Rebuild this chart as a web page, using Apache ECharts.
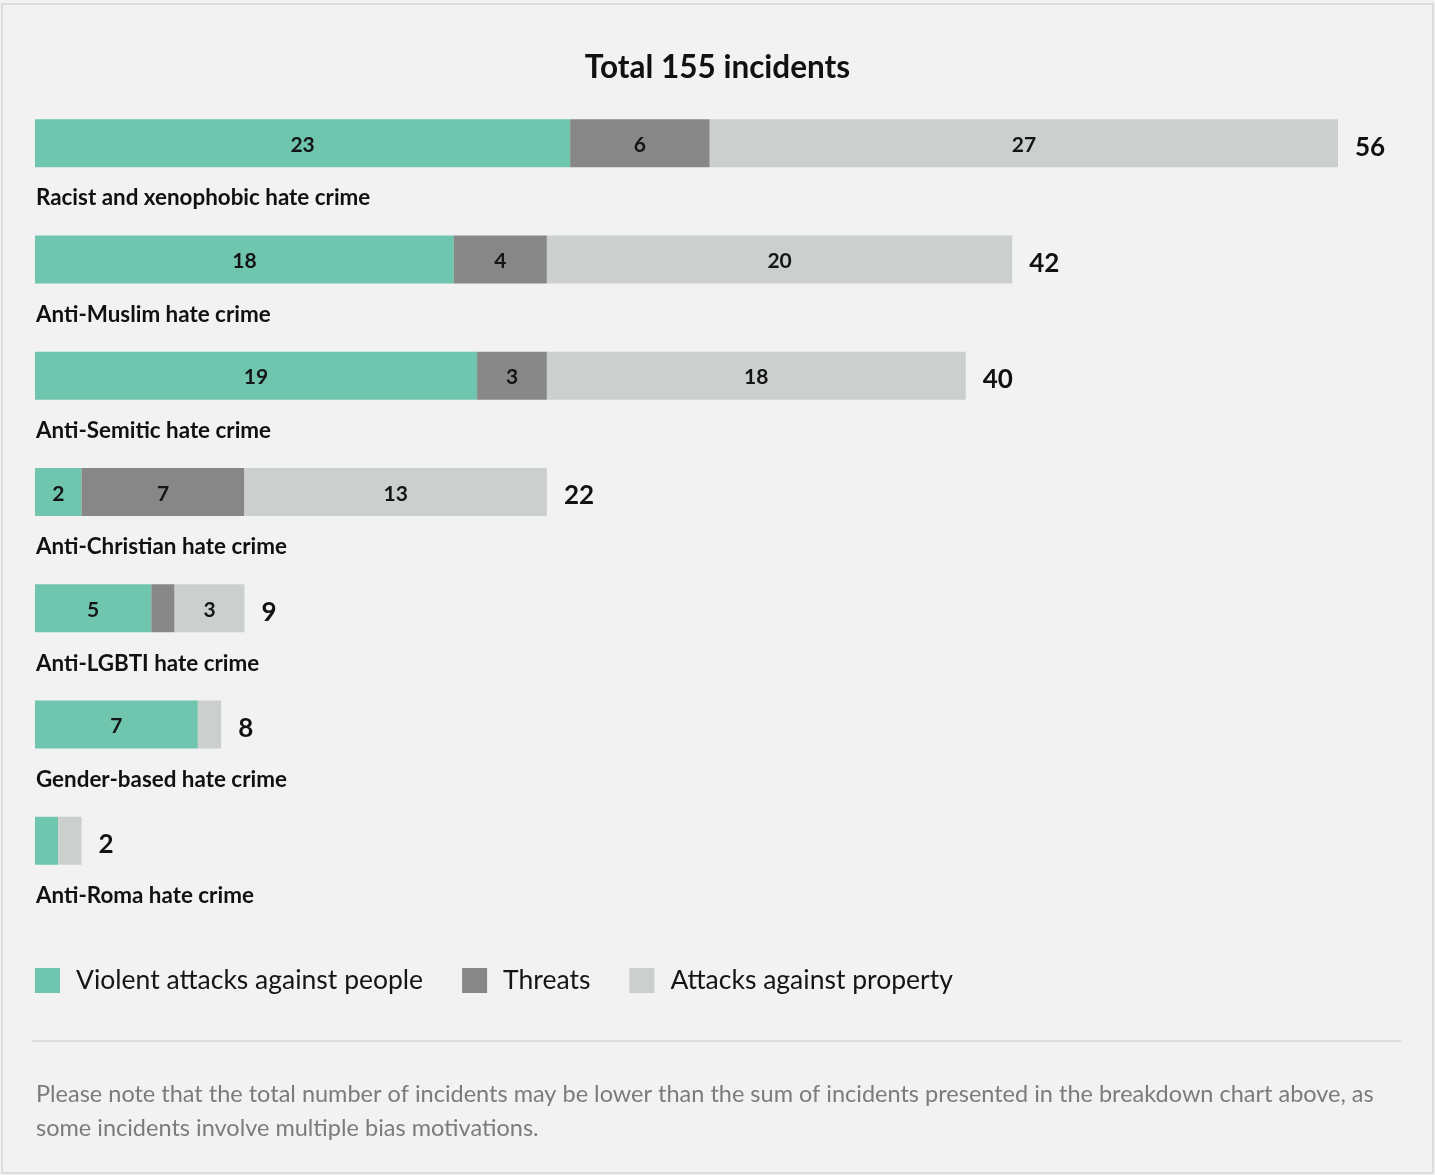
<!DOCTYPE html>
<html>
<head>
<meta charset="utf-8">
<script src="https://cdn.jsdelivr.net/npm/echarts@6/dist/echarts.min.js"></script>
<style>
html,body{margin:0;padding:0;background:#f2f2f2;}
#chart{width:1435px;height:1175px;}
</style>
</head>
<body>
<div id="chart"></div>
<script>
var categories = ['Racist and xenophobic hate crime','Anti-Muslim hate crime','Anti-Semitic hate crime','Anti-Christian hate crime','Anti-LGBTI hate crime','Gender-based hate crime','Anti-Roma hate crime'];
var violent = [23,18,19,2,5,7,1];
var threats = [6,4,3,7,1,0,0];
var property = [27,20,18,13,3,1,1];
var totals = [56,42,40,22,9,8,2];
var seriesNames = ['Violent attacks against people','Threats','Attacks against property'];
var titleText = 'Total 155 incidents';
var noteText = 'Please note that the total number of incidents may be lower than the sum of incidents presented in the breakdown chart above, as\nsome incidents involve multiple bias motivations.';

var FONT = 'Lato';
var chart = echarts.init(document.getElementById('chart'), null, {renderer:'canvas'});
var innerLabel = {
  show: true, position: 'inside', offset: [0, 2], fontSize: 21, fontWeight: 'bold', color: '#151515', fontFamily: FONT,
  formatter: function(p){ return p.value >= 2 ? String(p.value) : ''; }
};
var option = {
  backgroundColor: '#f2f2f2',
  textStyle: {fontFamily: FONT},
  animation: false,
  title: {
    text: titleText, left: 'center', top: 47,
    textStyle: {fontSize: 31.5, fontWeight: 'bold', color: '#111', fontFamily: FONT}
  },
  legend: {
    data: seriesNames, left: 35, top: 967, padding: 0,
    itemWidth: 25, itemHeight: 25, itemGap: 39, icon: 'rect',
    textStyle: {fontSize: 26.5, color: '#151515', padding: [0,0,0,11], fontFamily: FONT}
  },
  grid: {left: 35, right: 97, top: 85, height: 814, containLabel: false, outerBoundsMode: 'none'},
  xAxis: {type: 'value', min: 0, max: 56, show: false},
  yAxis: {
    type: 'category', data: categories, inverse: true,
    axisLine: {show: false}, axisTick: {show: false}, splitLine: {show: false},
    axisLabel: {
      inside: true, margin: 1, verticalAlign: 'top', padding: [44,0,0,0],
      fontSize: 22.4, fontWeight: 'bold', color: '#111', fontFamily: FONT
    }
  },
  series: [
    {name: seriesNames[0], type: 'bar', stack: 's', data: violent, barWidth: 48, itemStyle: {color: '#6fc5ad'}, label: innerLabel},
    {name: seriesNames[1], type: 'bar', stack: 's', data: threats, barWidth: 48, itemStyle: {color: '#878787'}, label: innerLabel},
    {name: seriesNames[2], type: 'bar', stack: 's', data: property, barWidth: 48, itemStyle: {color: '#cbcfce'}, label: innerLabel},
    {name: 'total', type: 'bar', stack: 's', data: totals.map(function(){return 0;}), barWidth: 48,
     itemStyle: {color: 'rgba(0,0,0,0)'},
     label: {show: true, position: 'right', distance: 17, offset: [0, 4], fontSize: 26, fontWeight: 'bold', color: '#111', fontFamily: FONT,
       formatter: function(p){ return String(totals[p.dataIndex]); }}}
  ],
  graphic: [
    {type: 'rect', shape: {x: 2, y: 4, width: 1431, height: 1169}, style: {fill: 'none', stroke: '#dcdcdc', lineWidth: 2}, silent: true},
    {type: 'line', shape: {x1: 32, y1: 1041, x2: 1401, y2: 1041}, style: {stroke: '#dedede', lineWidth: 2}, silent: true},
    {type: 'text', left: 36, top: 1077, style: {text: noteText, fontSize: 23.5, lineHeight: 34, fill: '#7b7b7b', fontFamily: FONT}}
  ]
};
chart.setOption(option);
</script>
</body>
</html>
